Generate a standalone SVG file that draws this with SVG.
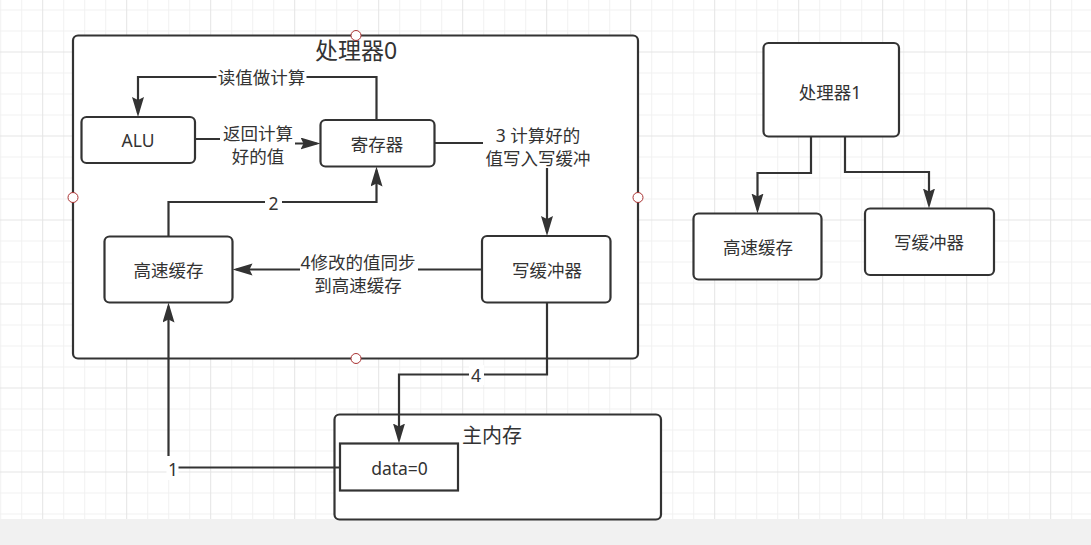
<svg xmlns="http://www.w3.org/2000/svg" width="1091" height="545" viewBox="0 0 1091 545">
<style>
.box{fill:#fff;stroke:#333;stroke-width:2.2}
.t{font-family:"Noto Sans","Noto Sans CJK SC",sans-serif;font-size:17.5px;fill:#333;text-anchor:middle;dominant-baseline:central}
.edge{fill:none;stroke:#333;stroke-width:2.2;marker-end:url(#arr)}
.lbg{fill:#fff}
.h{fill:#fff;stroke:#a33;stroke-width:1}
</style>
<defs>
<pattern id="grid" x="42.2" y="51.5" width="84" height="84" patternUnits="userSpaceOnUse">
<path d="M21.5,0V84M42.5,0V84M63.5,0V84M0,21.5H84M0,42.5H84M0,63.5H84" stroke="#f1f1f1" stroke-width="1" fill="none"/>
<path d="M0.5,0V84M0,0.5H84" stroke="#e4e4e4" stroke-width="1" fill="none"/>
</pattern>
<marker id="arr" markerUnits="userSpaceOnUse" markerWidth="22" markerHeight="14" refX="16" refY="6" orient="auto">
<path d="M0,0L20,6L0,12L3,6Z" fill="#333"/>
</marker>
</defs>
<rect width="1091" height="545" fill="#fff"/>
<rect width="1091" height="519" fill="url(#grid)"/>
<rect y="519" width="1091" height="26" fill="#f1f1f1"/>

<g id="proc0">
<rect class="box" x="73" y="35.5" width="565" height="323" rx="5"/>
<text class="t" x="356" y="49.5" style="font-size:23px">处理器0</text>
</g>
<g id="mem">
<rect class="box" x="334.5" y="414.5" width="326.5" height="105" rx="5"/>
<text class="t" x="492" y="435" style="font-size:20px">主内存</text>
</g>
<g id="alu">
<rect class="box" x="81.5" y="117" width="113.5" height="46" rx="5"/>
<text class="t" x="138" y="140">ALU</text>
</g>
<g id="reg">
<rect class="box" x="320.5" y="120" width="114" height="46.5" rx="5"/>
<text class="t" x="377" y="143.5">寄存器</text>
</g>
<g id="cache0">
<rect class="box" x="104.5" y="236.5" width="128" height="66" rx="5"/>
<text class="t" x="168.5" y="269.5">高速缓存</text>
</g>
<g id="wbuf0">
<rect class="box" x="482" y="236" width="128.5" height="66.5" rx="5"/>
<text class="t" x="547" y="270">写缓冲器</text>
</g>
<g id="data">
<rect class="box" x="340" y="443.5" width="118" height="47"/>
<text class="t" x="399.5" y="467.5">data=0</text>
</g>
<g id="proc1">
<rect class="box" x="763.5" y="43" width="135.5" height="93.5" rx="5"/>
<text class="t" x="830" y="91.5">处理器1</text>
</g>
<g id="cache1">
<rect class="box" x="693.5" y="213.5" width="128" height="66" rx="5"/>
<text class="t" x="758" y="247">高速缓存</text>
</g>
<g id="wbuf1">
<rect class="box" x="865" y="208.5" width="129" height="66.5" rx="5"/>
<text class="t" x="929" y="242">写缓冲器</text>
</g>

<g id="connectors">
<path class="edge" d="M376.5,120V77H138V113"/>
<path class="edge" d="M195,139H258V143.5H316.5"/>
<path class="edge" d="M168.5,236.5V202H376.5V170.5"/>
<path class="edge" d="M434.5,143H547V232"/>
<path class="edge" d="M482,269.5H236.5"/>
<path class="edge" d="M547,302.5V374.5H399V439.5"/>
<path class="edge" d="M340,467.5H168.5V306.5"/>
<path class="edge" d="M811,136.5V173H757.5V209.5"/>
<path class="edge" d="M845,136.5V172H929V204.5"/>
<g id="labels">
<rect class="lbg" x="216.5" y="67" width="90" height="20"/>
<text class="t" x="261.5" y="77">读值做计算</text>
<rect class="lbg" x="220" y="123" width="75" height="44"/>
<text class="t" x="258" y="133">返回计算</text>
<text class="t" x="258" y="155.5">好的值</text>
<rect class="lbg" x="265" y="192" width="17" height="20"/>
<text class="t" x="273.5" y="203">2</text>
<rect class="lbg" x="483" y="124" width="110" height="44"/>
<text class="t" x="538" y="135">3 计算好的</text>
<text class="t" x="538" y="158">值写入写缓冲</text>
<rect class="lbg" x="300" y="251" width="118" height="44"/>
<text class="t" x="358" y="262">4修改的值同步</text>
<text class="t" x="358" y="284.5">到高速缓存</text>
<rect class="lbg" x="469" y="365" width="15" height="20"/>
<text class="t" x="476" y="375">4</text>
<rect class="lbg" x="166.5" y="456" width="12" height="24"/>
<text class="t" x="173" y="468.5">1</text>
</g>
</g>
<g id="handles">
<circle class="h" cx="356" cy="35.5" r="5"/>
<circle class="h" cx="73" cy="197.5" r="5"/>
<circle class="h" cx="638" cy="197.5" r="5"/>
<circle class="h" cx="356" cy="358.5" r="5"/>
</g>
</svg>
